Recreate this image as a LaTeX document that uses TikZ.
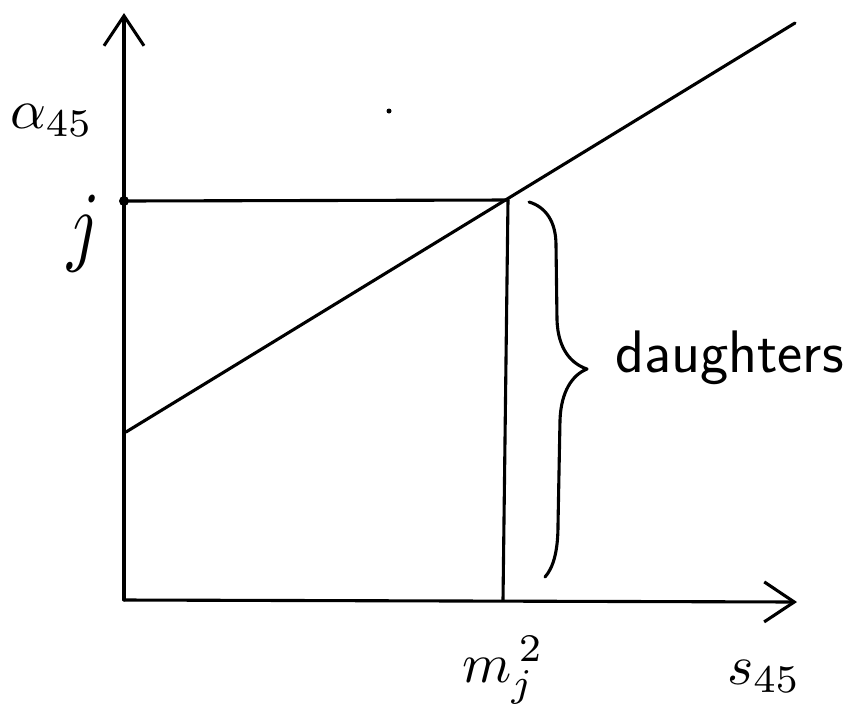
\documentclass[tikz,border=0pt]{standalone}
\usepackage{graphicx}
\usetikzlibrary{arrows.meta}
\tikzset{
  stroke/.style={line width=3.1pt, line cap=round, line join=round},
  axis/.style={stroke, -{Straight Barb[length=30pt,width=40pt,line width=3.1pt]}},
  lbl/.style={inner sep=0pt, outer sep=0pt},
}
\begin{document}
\begin{tikzpicture}[x=1pt,y=-1pt]
\useasboundingbox (0,0) rectangle (859,724);
% key coordinates
\coordinate (O) at (124,600);
\coordinate (Ytop) at (124,13);
\coordinate (Xend) at (797,602);
\coordinate (J) at (124,201);
\coordinate (P) at (508,200);
\coordinate (M) at (503,600);
\coordinate (D0) at (126,432);
\coordinate (D1) at (795,23);
% axes
\draw[axis] (O) -- (Ytop);
\draw[axis] (O) -- (Xend);
% lines
\draw[stroke] (J) -- (P);
\draw[stroke] (P) -- (M);
\draw[stroke] (D0) -- (D1);
% dots
\fill (J) circle (5pt);
\node[circle, fill, inner sep=0pt, minimum size=5pt] (speck) at (389,111) {};
% brace
\draw[stroke] (529,202) .. controls (546,207) and (556,222) .. (556,245)
  -- (557,320) .. controls (558,350) and (572,364) .. (587,369)
  .. controls (572,375) and (561,392) .. (560,420)
  -- (558,525) .. controls (558,552) and (553,568) .. (545,577);
% labels
\node[lbl, anchor=base west] (alpha) at (10,128) {\scalebox{5.6}{$\alpha_{45}$}};
\node[lbl, anchor=base] (jl) at (84,254) {\scalebox{7}[9]{$j$}};
\node[lbl, anchor=base west] (dau) at (615,372) {\fontsize{60}{68}\selectfont\sffamily daughters};
\node[lbl, anchor=base west] (mj) at (462,682) {\scalebox{5.6}{$m_j^{\,2}$}};
\node[lbl, anchor=base west] (s45) at (727,684) {\scalebox{5.6}{$s_{45}$}};
\end{tikzpicture}
\end{document}
